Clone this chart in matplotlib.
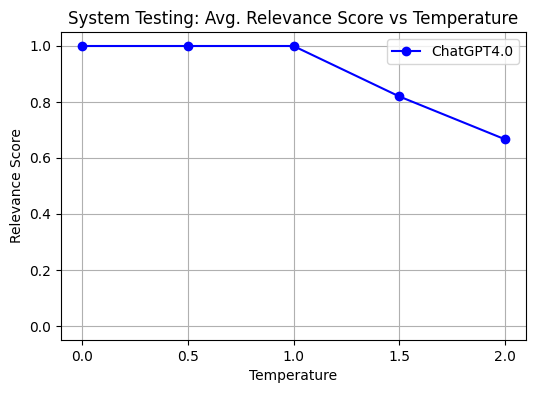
import matplotlib
matplotlib.use("Agg")
import matplotlib.pyplot as plt

temperatures = [0.0, 0.5, 1.0, 1.5, 2.0]
scores = [1.0, 1.0, 1.0, 0.82, 0.667]
series_label = "ChatGPT4.0"

fig = plt.figure(figsize=(5.36, 3.93), dpi=100)
ax = fig.add_axes([61/536, 1 - 340/393, (526-61)/536, (340-32)/393])
ax.plot(temperatures, scores, marker="o", color="blue", label=series_label)
ax.set_ylim(-0.05, 1.05)
ax.set_xticks(temperatures)
ax.set_title("System Testing: Avg. Relevance Score vs Temperature")
ax.set_xlabel("Temperature")
ax.set_ylabel("Relevance Score")
ax.grid(True)
ax.legend(loc="upper right")
fig.savefig("out.png", dpi=100)
